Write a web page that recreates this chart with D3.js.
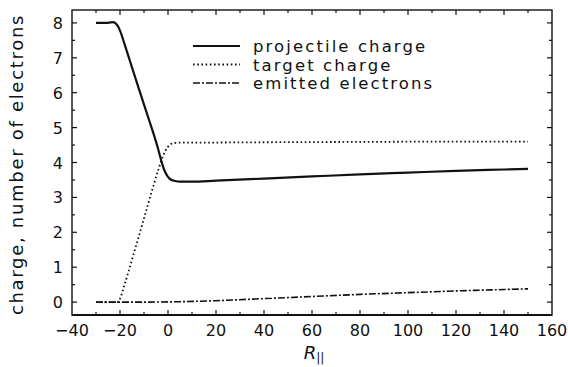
<!DOCTYPE html>
<html>
<head>
<meta charset="utf-8">
<script src="https://cdn.jsdelivr.net/npm/d3@7"></script>
<style>
  body { margin: 0; background: #fff; }
  text, tspan { font-family: "DejaVu Sans", sans-serif; fill: #111; }
</style>
</head>
<body>
<div id="chart"></div>
<script>
// data
const projectileR = [-30, -26, -23, -21, -20, -18, -16, -14, -12, -10, -8, -6, -4, -3, -2, -1, 0, 1, 3, 5, 10, 20, 40, 60, 80, 100, 120, 140, 150];
const projectileQ = [8.0, 8.0, 8.02, 7.92, 7.78, 7.37, 6.94, 6.51, 6.08, 5.66, 5.24, 4.82, 4.36, 4.1, 3.87, 3.7, 3.59, 3.52, 3.47, 3.45, 3.45, 3.48, 3.54, 3.6, 3.66, 3.71, 3.76, 3.8, 3.82];

const targetR = [-30, -25, -21, -20, -18, -16, -14, -12, -10, -8, -6, -4, -2, 0, 2, 5, 10, 40, 80, 120, 150];
const targetQ = [0, 0, 0, 0.1, 0.52, 0.98, 1.45, 1.92, 2.4, 2.88, 3.35, 3.8, 4.2, 4.45, 4.55, 4.57, 4.57, 4.58, 4.59, 4.6, 4.6];

const emittedR = [-30, -20, -10, 0, 20, 40, 60, 80, 100, 120, 140, 150];
const emittedQ = [0, 0, 0, 0.005, 0.04, 0.1, 0.16, 0.22, 0.27, 0.32, 0.36, 0.38];

const seriesNames = ["projectile charge", "target charge", "emitted electrons"];
const xTicks = [-40, -20, 0, 20, 40, 60, 80, 100, 120, 140, 160];
const yTicks = [0, 1, 2, 3, 4, 5, 6, 7, 8];

const width = 568, height = 367;
const margin = { top: 10, right: 16, bottom: 52, left: 72 };

const svg = d3.select("#chart").append("svg")
  .attr("width", width)
  .attr("height", height);

const x = d3.scaleLinear().domain([-40, 160]).range([margin.left, width - margin.right]);
const y = d3.scaleLinear().domain([-0.37, 8.37]).range([height - margin.bottom, margin.top]);

// frame
svg.append("rect")
  .attr("x", x(-40)).attr("y", y(8.37))
  .attr("width", x(160) - x(-40)).attr("height", y(-0.37) - y(8.37))
  .attr("fill", "none").attr("stroke", "#111").attr("stroke-width", 1.4);
svg.append("line")
  .attr("x1", x(-40)).attr("x2", x(160))
  .attr("y1", y(-0.37)).attr("y2", y(-0.37))
  .attr("stroke", "#111").attr("stroke-width", 2);

// ticks, inward, on all four sides
const xMinor = d3.range(-30, 160, 10);
const yMinor = d3.range(0, 8.5, 0.5);
const tickG = svg.append("g").attr("stroke", "#111").attr("stroke-width", 1.2);
xMinor.forEach((v) => {
  const len = v % 20 === 0 ? 5 : 3;
  tickG.append("line").attr("x1", x(v)).attr("x2", x(v))
    .attr("y1", y(-0.37)).attr("y2", y(-0.37) - len);
  tickG.append("line").attr("x1", x(v)).attr("x2", x(v))
    .attr("y1", y(8.37)).attr("y2", y(8.37) + len);
});
yMinor.forEach((v) => {
  const len = Number.isInteger(v) ? 5 : 3;
  tickG.append("line").attr("x1", x(-40)).attr("x2", x(-40) + len)
    .attr("y1", y(v)).attr("y2", y(v));
  tickG.append("line").attr("x1", x(160)).attr("x2", x(160) - len)
    .attr("y1", y(v)).attr("y2", y(v));
});

// tick labels
svg.append("g").selectAll("text").data(xTicks).join("text")
  .attr("x", (d) => x(d))
  .attr("y", y(-0.37) + 21)
  .attr("text-anchor", "middle")
  .attr("font-size", 16)
  .text((d) => d < 0 ? "\u2212" + Math.abs(d) : d);

svg.append("g").selectAll("text").data(yTicks).join("text")
  .attr("x", x(-40) - 9)
  .attr("y", (d) => y(d) + 6)
  .attr("text-anchor", "end")
  .attr("font-size", 16)
  .text((d) => d);

// axis titles
svg.append("text")
  .attr("transform", `translate(23,${(y(-0.37) + y(8.37)) / 2 + 2}) rotate(-90)`)
  .attr("text-anchor", "middle")
  .attr("font-size", 18)
  .attr("letter-spacing", 1.7)
  .text("charge, number of electrons");

const xl = svg.append("text")
  .attr("x", x(60) + 2)
  .attr("y", height - 8)
  .attr("text-anchor", "middle")
  .attr("font-size", 18);
xl.append("tspan").attr("font-style", "italic").text("R");
xl.append("tspan").attr("font-size", 12).attr("dy", 3).text("||");

// curves
const line = d3.line()
  .x((d) => x(d[0]))
  .y((d) => y(d[1]))
  .curve(d3.curveMonotoneX);

const series = [
  { r: projectileR, q: projectileQ, width: 2.2, dash: null },
  { r: targetR, q: targetQ, width: 1.8, dash: "1.6,2.6" },
  { r: emittedR, q: emittedQ, width: 1.6, dash: "7,2,2,2" },
];

svg.append("g").selectAll("path").data(series).join("path")
  .attr("fill", "none")
  .attr("stroke", "#111")
  .attr("stroke-width", (d) => d.width)
  .attr("stroke-dasharray", (d) => d.dash)
  .attr("d", (d) => line(d.r.map((v, i) => [v, d.q[i]])));

// legend
const legend = svg.append("g");
series.forEach((s, i) => {
  const ly = 46 + i * 18.5;
  legend.append("line")
    .attr("x1", 193).attr("x2", 240)
    .attr("y1", ly).attr("y2", ly)
    .attr("stroke", "#111")
    .attr("stroke-width", s.width)
    .attr("stroke-dasharray", s.dash);
  legend.append("text")
    .attr("x", 253).attr("y", ly + 6)
    .attr("font-size", 16.5)
    .attr("letter-spacing", 2.1)
    .text(seriesNames[i]);
});
</script>
</body>
</html>
